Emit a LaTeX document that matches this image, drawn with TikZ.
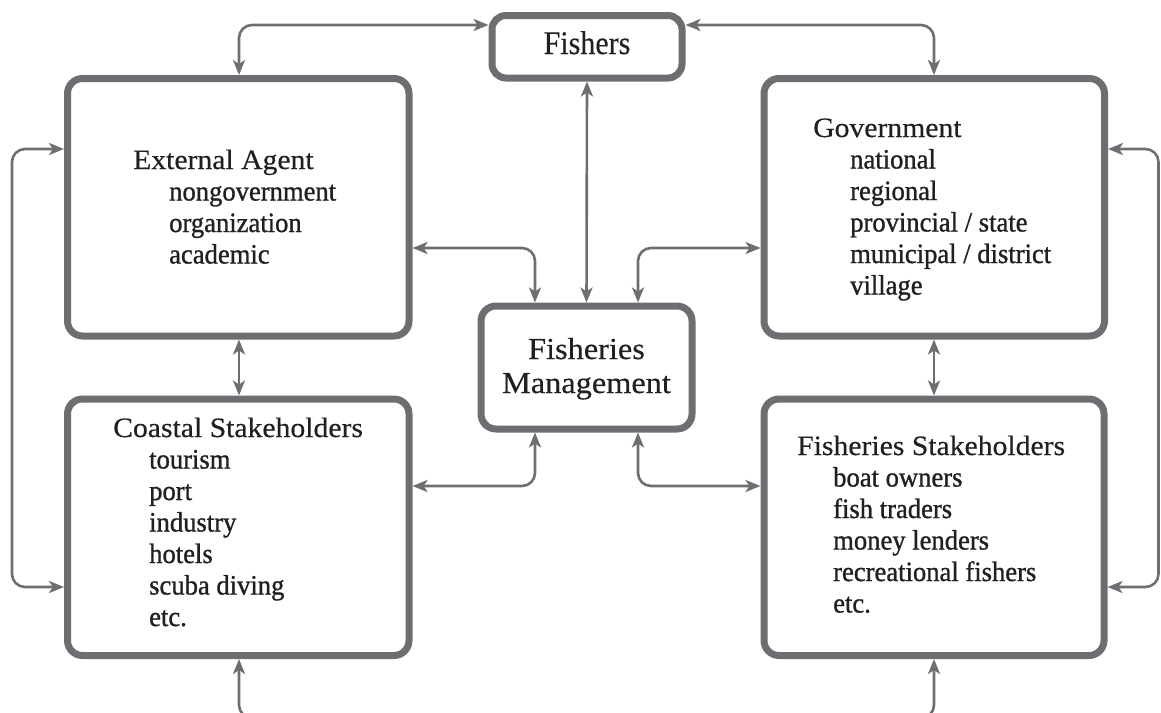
\documentclass[tikz,border=0pt]{standalone}
\usepackage{fontspec}
\setmainfont{Liberation Serif}
\newfontfamily\headfont{Liberation Serif}[FakeStretch=1.06,FakeBold=0.4]
\newfontfamily\itemfont{Liberation Serif}[FakeStretch=0.95,FakeBold=1.0]
\newfontfamily\namefont{Liberation Serif}[FakeStretch=0.91,FakeBold=0.3]
\usetikzlibrary{arrows.meta}
\definecolor{boxgray}{RGB}{109,110,113}
\definecolor{ink}{RGB}{35,31,32}

\begin{document}
\begin{tikzpicture}[x=1pt,y=-1pt,
  box/.style={draw=boxgray, line width=7pt, rounded corners=15pt,
              outer sep=3.5pt, inner sep=0pt, fill=white},
  link/.style={draw=boxgray, line width=2.6pt, rounded corners=13pt,
               {Stealth[length=15pt,width=12pt,inset=4pt]}-{Stealth[length=15pt,width=12pt,inset=4pt]}},
  head/.style={font=\headfont\fontsize{28}{31.5}\selectfont, text=ink, inner sep=0pt, anchor=base west},
  item/.style={font=\itemfont\fontsize{28}{31.5}\selectfont, text=ink, inner sep=0pt, anchor=base west},
  centre/.style={font=\headfont\fontsize{30.5}{34}\selectfont, text=ink, inner sep=0pt, anchor=base}]

\useasboundingbox (0,0) rectangle (1161,712);
\clip (0,0) rectangle (1161,712);

% boxes
\node[box, minimum width=341.5pt, minimum height=257.5pt] (ext)    at (238.25,207.25) {};
\node[box, minimum width=340.5pt, minimum height=257.5pt] (gov)    at (934.25,207.25) {};
\node[box, minimum width=341.5pt, minimum height=256.5pt] (coast)  at (238.25,527.25) {};
\node[box, minimum width=340pt,   minimum height=256.5pt] (fstake) at (934,527.25) {};
\node[box, minimum width=190pt,   minimum height=62.5pt, rounded corners=14pt] (fishers) at (587,46.75) {};
\node[box, minimum width=211pt,   minimum height=123pt] (fm) at (586.5,367.5) {};

% box texts
\node[centre, font=\namefont\fontsize{33}{33}\selectfont] (fishersT) at (587,54) {Fishers};
\node[centre] (fmT1) at (586.5,359) {Fisheries};
\node[centre] (fmT2) at (586.5,393) {Management};

\node[head] (extT) at (133,169) {External Agent};
\foreach \t [count=\i] in {nongovernment, organization, academic}
  \node[item] (ext\i) at (169,{169+31.5*\i}) {\t};

\node[head] (govT) at (813,137) {Government};
\foreach \t [count=\i] in {national, regional, provincial / state, municipal / district, village}
  \node[item] (gov\i) at (850,{137+31.5*\i}) {\t};

\node[head] (coastT) at (113,437) {Coastal Stakeholders};
\foreach \t [count=\i] in {tourism, port, industry, hotels, scuba diving, etc.}
  \node[item] (coast\i) at (149,{437+31.5*\i}) {\t};

\node[head] (fstakeT) at (797,455) {Fisheries Stakeholders};
\foreach \t [count=\i] in {boat owners, fish traders, money lenders, recreational fishers, etc.}
  \node[item] (fstake\i) at (833,{455+31.5*\i}) {\t};

% routing guides
\coordinate (rowTop)  at (0,25);
\coordinate (rowUp)   at (0,248);
\coordinate (rowLow)  at (0,486);
\coordinate (rowS1)   at (0,149);
\coordinate (rowS2)   at (0,587);
\coordinate (rowBot)  at (0,718);
\coordinate (colL)    at (239,0);
\coordinate (colR)    at (934,0);
\coordinate (colMl)   at (535,0);
\coordinate (colMr)   at (638,0);
\coordinate (colFarL) at (12,0);
\coordinate (colFarR) at (1158.5,0);

% connectors
\draw[link] (ext.north -| colL) -- (colL |- rowTop) -- (fishers.west |- rowTop);
\draw[link] (fishers.east |- rowTop) -- (colR |- rowTop) -- (gov.north -| colR);
\draw[link] (fishers.south) -- (fm.north);
\draw[link] (ext.east |- rowUp) -- (colMl |- rowUp) -- (fm.north -| colMl);
\draw[link] (gov.west |- rowUp) -- (colMr |- rowUp) -- (fm.north -| colMr);
\draw[link] (coast.east |- rowLow) -- (colMl |- rowLow) -- (fm.south -| colMl);
\draw[link] (fstake.west |- rowLow) -- (colMr |- rowLow) -- (fm.south -| colMr);
\draw[link] (ext.south -| colL) -- (coast.north -| colL);
\draw[link] (gov.south -| colR) -- (fstake.north -| colR);
\draw[link] (ext.west |- rowS1) -- (colFarL |- rowS1) -- (colFarL |- rowS2) -- (coast.west |- rowS2);
\draw[link] (gov.east |- rowS1) -- (colFarR |- rowS1) -- (colFarR |- rowS2) -- (fstake.east |- rowS2);
\draw[link] (coast.south -| colL) -- (colL |- rowBot) -- (colR |- rowBot) -- (fstake.south -| colR);

\end{tikzpicture}
\end{document}
